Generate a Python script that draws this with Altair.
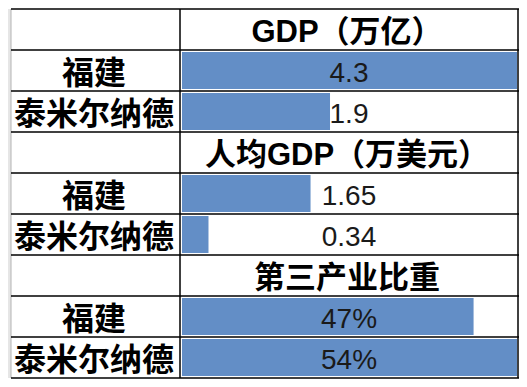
import altair as alt
import pandas as pd

# ---- data ----
sections = ["GDP（万亿）", "人均GDP（万美元）", "第三产业比重"]
regions = ["福建", "泰米尔纳德"]
gdp = [4.3, 1.9]
gdp_per_capita = [1.65, 0.34]
tertiary_share = [47, 54]
value_labels = [["4.3", "1.9"], ["1.65", "0.34"], ["47%", "54%"]]

# ---- layout (pixels) ----
W = 511
ROW = 41
NROWS = 9
H = ROW * NROWS
COL_LINE = 172
RIGHT_LINE = 510
BAR0 = 174
BAR1 = 509
SPAN = BAR1 - BAR0
TEXT_SHIFT = 3 / ROW
CJK_FONT = "'Liberation Sans', 'Noto Sans CJK SC', sans-serif"


def u(px):
    return (px - BAR0) / SPAN


XMIN, XMAX = u(0), u(W)
LABEL_X = u(COL_LINE / 2)
TITLE_X = u((COL_LINE + RIGHT_LINE) / 2 - 2)
VALUE_X = u((COL_LINE + RIGHT_LINE) / 2)

money_max = max(gdp + gdp_per_capita)
share_max = max(tertiary_share)
series = [gdp, gdp_per_capita, tertiary_share]
maxes = [money_max, money_max, share_max]

bar_rows, title_rows, label_rows = [], [], []
for s, sec in enumerate(sections):
    r0 = 3 * s
    title_rows.append({"text": sec, "x": TITLE_X, "y": r0 + 0.5 + TEXT_SHIFT})
    for j, reg in enumerate(regions):
        r = r0 + 1 + j
        v = series[s][j]
        bar_rows.append({
            "section": sec, "region": reg, "value": v,
            "start": 0.0, "frac": v / maxes[s],
            "y": r + 2 / ROW, "y2": r + 1 - 2 / ROW,
            "label": value_labels[s][j], "tx": VALUE_X,
            "ty": r + 0.5 + TEXT_SHIFT,
        })
        label_rows.append({"text": reg, "x": LABEL_X, "y": r + 0.5 + TEXT_SHIFT})

bars_df = pd.DataFrame(bar_rows)
titles_df = pd.DataFrame(title_rows)
labels_df = pd.DataFrame(label_rows)
hlines_df = pd.DataFrame({"y": list(range(NROWS + 1)), "x": [u(3)] * (NROWS + 1), "x2": [XMAX] * (NROWS + 1)})
vlines_df = pd.DataFrame({"x": [u(COL_LINE), u(RIGHT_LINE)], "y": [0, 0], "y2": [NROWS, NROWS]})
strip_df = pd.DataFrame({"x": [XMIN], "x2": [u(3)], "y": [-1], "y2": [NROWS + 1]})
strip_line_df = pd.DataFrame({"x": [u(3)], "y": [-1], "y2": [NROWS + 1]})

xs = alt.Scale(domain=[XMIN, XMAX], nice=False, zero=False)
ys = alt.Scale(domain=[0, NROWS], reverse=True, nice=False, zero=False)

strip = alt.Chart(strip_df).mark_rect(color="#e6e6e6", clip=True).encode(
    x=alt.X("x:Q", scale=xs, axis=None), x2="x2:Q",
    y=alt.Y("y:Q", scale=ys, axis=None), y2="y2:Q")
strip_line = alt.Chart(strip_line_df).mark_rule(color="#b4b4b4", strokeWidth=1, clip=True).encode(
    x=alt.X("x:Q", scale=xs, axis=None),
    y=alt.Y("y:Q", scale=ys, axis=None), y2="y2:Q")

hlines = alt.Chart(hlines_df).mark_rule(color="black", strokeWidth=1.5).encode(
    x=alt.X("x:Q", scale=xs, axis=None), x2="x2:Q",
    y=alt.Y("y:Q", scale=ys, axis=None))
vlines = alt.Chart(vlines_df).mark_rule(color="black", strokeWidth=1.5).encode(
    x=alt.X("x:Q", scale=xs, axis=None),
    y=alt.Y("y:Q", scale=ys, axis=None), y2="y2:Q")

bars = alt.Chart(bars_df).mark_bar(color="#638EC6", cornerRadius=0).encode(
    x=alt.X("start:Q", scale=xs, axis=None), x2="frac:Q",
    y=alt.Y("y:Q", scale=ys, axis=None), y2="y2:Q")

values = alt.Chart(bars_df).mark_text(
    font="Liberation Sans", fontSize=28, color="#1a1a1a",
    align="center", baseline="middle").encode(
    x=alt.X("tx:Q", scale=xs, axis=None),
    y=alt.Y("ty:Q", scale=ys, axis=None),
    text="label:N")

labels = alt.Chart(labels_df).mark_text(
    font=CJK_FONT, fontSize=32, fontWeight="bold", color="black",
    align="center", baseline="middle").encode(
    x=alt.X("x:Q", scale=xs, axis=None),
    y=alt.Y("y:Q", scale=ys, axis=None),
    text="text:N")

titles = alt.Chart(titles_df).mark_text(
    font=CJK_FONT, fontSize=31, fontWeight="bold", color="black",
    align="center", baseline="middle").encode(
    x=alt.X("x:Q", scale=xs, axis=None),
    y=alt.Y("y:Q", scale=ys, axis=None),
    text="text:N")

chart = alt.layer(strip, strip_line, bars, hlines, vlines, values, labels, titles).properties(
    width=W, height=H,
    autosize=alt.AutoSizeParams(type="none"),
    padding={"left": 0, "top": 1, "right": 0, "bottom": 1},
    background="white",
).configure_view(stroke=None)

chart.save("out.html", embed_options={"renderer": "svg", "actions": False})
